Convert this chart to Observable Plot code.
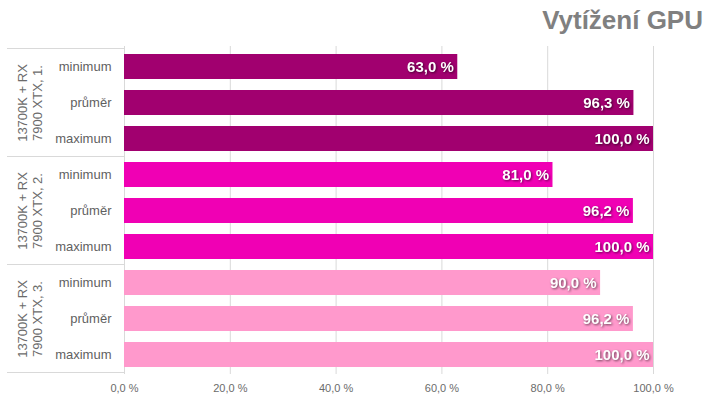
<!DOCTYPE html>
<html>
<head>
<meta charset="utf-8">
<script src="https://cdn.jsdelivr.net/npm/d3@7"></script>
<script src="https://cdn.jsdelivr.net/npm/@observablehq/plot@0.6"></script>
<style>
  html, body { margin: 0; padding: 0; background: #fff; }
  body { width: 720px; height: 405px; overflow: hidden; font-family: "Liberation Sans", Arial, sans-serif; }
  #title { height: 40px; line-height: 40px; font-size: 26px; font-weight: bold; color: #808080; text-align: right; padding-right: 17px; }
  #chart svg { display: block; }
</style>
</head>
<body>
<div id="title">Vytížení GPU</div>
<div id="chart"></div>
<script>
const groups = ["13700K + RX 7900 XTX, 1.", "13700K + RX 7900 XTX, 2.", "13700K + RX 7900 XTX, 3."];
const groupLabels = ["13700K + RX\n7900 XTX, 1.", "13700K + RX\n7900 XTX, 2.", "13700K + RX\n7900 XTX, 3."];
const metrics = ["minimum", "průměr", "maximum"];
const values1 = [63.0, 96.3, 100.0];
const values2 = [81.0, 96.2, 100.0];
const values3 = [90.0, 96.2, 100.0];
const colors = ["#A1006F", "#F000B4", "#FF99CC"];
const xTicks = [0, 20, 40, 60, 80, 100];

const seriesValues = [values1, values2, values3];
const rows = [];
groups.forEach((g, gi) => metrics.forEach((m, mi) => rows.push({group: g, metric: m, key: gi + "|" + m, value: seriesValues[gi][mi]})));
const keys = rows.map(d => d.key);
const groupInfo = groups.map((g, gi) => ({group: g, label: groupLabels[gi], first: gi + "|" + metrics[0], mid: gi + "|" + metrics[1], last: gi + "|" + metrics[2]}));
const fmt = v => v.toFixed(1).replace(".", ",") + " %";

function separators(index, scales, values, dimensions) {
  const y = scales.y;
  const step = y(keys[1]) - y(keys[0]);
  const bw = scales.scales.y.bandwidth;
  const half = (step - bw) / 2;
  const g = d3.create("svg:g");
  const x1 = dimensions.marginLeft - 117, x2 = dimensions.marginLeft;
  const ys = [];
  groupInfo.forEach((gi, i) => { if (i === 0) ys.push(y(gi.first) - half); ys.push(y(gi.last) + bw + half); });
  ys.forEach(yy => g.append("line").attr("x1", x1).attr("x2", x2).attr("y1", yy).attr("y2", yy).attr("stroke", "#d9d9d9").attr("stroke-width", 1));
  return g.node();
}

const plot = Plot.plot({
  width: 720,
  height: 365,
  marginTop: 6,
  marginBottom: 31,
  marginLeft: 124,
  marginRight: 67,
  style: {fontFamily: "'Liberation Sans', Arial, sans-serif", background: "#fff"},
  x: {domain: [0, 100], axis: null, label: null},
  y: {domain: keys, paddingInner: 0.31, paddingOuter: 0.155, axis: null, label: null},
  color: {domain: groups, range: colors},
  marks: [
    Plot.ruleX(xTicks, {x: d => d, stroke: "#d9d9d9", strokeWidth: 1}),
    separators,
    Plot.barX(rows, {x: "value", y: "key", fill: "group"}),
    Plot.text(rows, {x: "value", y: "key", text: d => fmt(d.value), textAnchor: "end", dx: -4, fill: "white", fontWeight: "bold", fontSize: 15}),
    Plot.axisX(xTicks, {tickSize: 0, tickPadding: 10, tickFormat: fmt, fontSize: 11, fill: "#6b6b6b", anchor: "bottom", label: null}),
    Plot.axisY(keys, {tickSize: 0, tickPadding: 13, tickFormat: k => k.split("|")[1], fontSize: 13, fill: "#5f5f5f", anchor: "left", label: null}),
    Plot.text(groupInfo, {y: "mid", text: "label", frameAnchor: "left", dx: -95, rotate: -90, fontSize: 13, fill: "#6b6b6b", lineAnchor: "middle", textAnchor: "middle", lineHeight: 1.15})
  ]
});
document.getElementById("chart").appendChild(plot);
d3.select(plot).selectAll('g[fill="white"] text').style("filter", "drop-shadow(1px 1px 1px rgba(0,0,0,0.55))");
</script>
</body>
</html>
